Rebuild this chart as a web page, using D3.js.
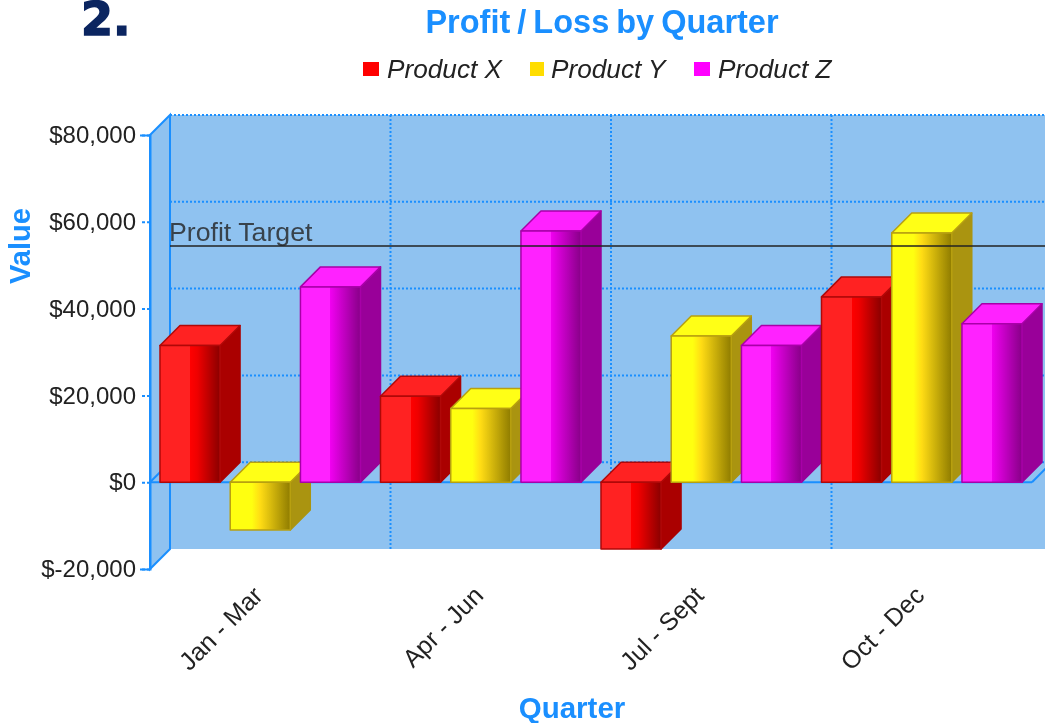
<!DOCTYPE html>
<html>
<head>
<meta charset="utf-8">
<script src="https://d3js.org/d3.v7.min.js"></script>
<style>
  html, body { margin: 0; padding: 0; background: #fff; overflow: hidden; }
  svg { display: block; font-family: "Liberation Sans", Arial, sans-serif; }
  #chart { filter: blur(0.6px); }
</style>
</head>
<body>
<div id="chart"></div>
<script>
// chart data
const quarters = ["Jan - Mar", "Apr - Jun", "Jul - Sept", "Oct - Dec"];
const products = ["Product X", "Product Y", "Product Z"];
const productX = [31500, 19800, -15400, 42700];
const productY = [-11000, 17000, 33700, 57400];
const productZ = [45000, 57900, 31500, 36500];
const yTicks = [-20000, 0, 20000, 40000, 60000, 80000];
const gridTicks = [0, 20000, 40000, 60000, 80000];
const profitTarget = 49800;

const width = 1045, height = 723;
const depth = 20;
const blue = "#1a8fff";
const wall = "#8fc2f0";

const palette = [
  { top: "#ff2222", side: "#aa0000", edge: "#b00808", key: "#ff0000",
    stops: [[0, "#ff2222"], [0.5, "#ff2222"], [0.5, "#ff0000"], [0.62, "#f00000"], [1, "#8a0000"]] },
  { top: "#ffff16", side: "#aa9410", edge: "#b8a010", key: "#ffdd00",
    stops: [[0, "#ffff10"], [0.36, "#ffff10"], [0.5, "#ffdc14"], [1, "#8f7c00"]] },
  { top: "#ff22ff", side: "#990099", edge: "#a800a8", key: "#ff00ff",
    stops: [[0, "#ff22ff"], [0.5, "#ff22ff"], [0.5, "#f000f0"], [1, "#880088"]] }
];

const svg = d3.select("#chart").append("svg")
  .attr("width", width)
  .attr("height", height);

const y = d3.scaleLinear().domain([-20000, 80000]).range([569, 135]);
const x0 = d3.scaleBand().domain(quarters).range([150, 1032]);
const x1 = d3.scaleBand().domain(products).range([10, 210.5]).paddingInner(0.145);

// gradients for the bar fronts
const defs = svg.append("defs");
palette.forEach((c, i) => {
  const g = defs.append("linearGradient").attr("id", "front" + i);
  c.stops.forEach(s => {
    g.append("stop").attr("offset", s[0]).attr("stop-color", s[1]);
  });
});

// walls
const back = svg.append("g");
back.append("rect")
  .attr("x", x0.range()[0] + depth)
  .attr("y", y(80000) - depth)
  .attr("width", width - x0.range()[0] - depth)
  .attr("height", y(-20000) - y(80000))
  .attr("fill", wall);
back.append("path")
  .attr("d", `M150,${y(80000)}L170,${y(80000) - depth}V${y(-20000) - depth}L150,${y(-20000)}Z`)
  .attr("fill", wall)
  .attr("stroke", blue)
  .attr("stroke-width", 2);

// dotted grid on the back wall
back.selectAll(".hgrid").data(gridTicks)
  .enter().append("line")
  .attr("x1", 170).attr("x2", width)
  .attr("y1", d => y(d) - depth).attr("y2", d => y(d) - depth)
  .attr("stroke", blue)
  .attr("stroke-width", 2)
  .attr("stroke-dasharray", "2,2");
back.selectAll(".vgrid").data(quarters.slice(1))
  .enter().append("line")
  .attr("x1", d => x0(d) + depth).attr("x2", d => x0(d) + depth)
  .attr("y1", y(80000) - depth).attr("y2", y(-20000) - depth)
  .attr("stroke", blue)
  .attr("stroke-width", 2)
  .attr("stroke-dasharray", "2,2");

// zero plane
back.append("path")
  .attr("d", `M150,${y(0)}L170,${y(0) - depth}M${x0.range()[1]},${y(0)}L${x0.range()[1] + depth},${y(0) - depth}`)
  .attr("stroke", blue).attr("stroke-width", 2).attr("fill", "none");
back.append("line")
  .attr("x1", 150).attr("x2", x0.range()[1])
  .attr("y1", y(0)).attr("y2", y(0))
  .attr("stroke", blue).attr("stroke-width", 2);

// y axis
const yAxis = d3.axisLeft(y)
  .tickValues(yTicks)
  .tickSize(10)
  .tickPadding(4)
  .tickFormat(d => (d < 0 ? "$-" : "$") + d3.format(",")(Math.abs(d)));
const yG = svg.append("g").attr("transform", "translate(150,0)").call(yAxis);
yG.select(".domain").attr("stroke", blue).attr("stroke-width", 2);
yG.selectAll(".tick line").attr("stroke", blue).attr("stroke-width", 2).attr("stroke-dasharray", "3,2");
yG.selectAll(".tick text").attr("fill", "#222").style("font-size", "24px").style("font-family", "Liberation Sans");

// bars, drawn left to right so that they overlap as in 3d
const series = [productX, productY, productZ];
quarters.forEach((q, qi) => {
  products.forEach((p, pi) => {
    const v = series[pi][qi];
    const c = palette[pi];
    const bx = x0(q) + x1(p), bw = x1.bandwidth();
    const top = y(Math.max(v, 0)), bot = y(Math.min(v, 0));
    const g = svg.append("g").attr("stroke", c.edge).attr("stroke-width", 1.5).attr("stroke-linejoin", "round");
    g.append("path")
      .attr("d", `M${bx + bw},${top}l${depth},${-depth}V${bot - depth}L${bx + bw},${bot}Z`)
      .attr("fill", c.side).attr("stroke", c.side);
    g.append("path")
      .attr("d", `M${bx},${top}l${depth},${-depth}h${bw}l${-depth},${depth}Z`)
      .attr("fill", c.top);
    g.append("rect")
      .attr("x", bx).attr("y", top)
      .attr("width", bw).attr("height", bot - top)
      .attr("fill", `url(#front${pi})`);
  });
});

// target marker
svg.append("line")
  .attr("x1", 170).attr("x2", width)
  .attr("y1", y(profitTarget) - depth).attr("y2", y(profitTarget) - depth)
  .attr("stroke", "#222").attr("stroke-opacity", 0.75).attr("stroke-width", 2);
svg.append("text")
  .attr("x", 169).attr("y", y(profitTarget) - depth - 5)
  .attr("fill", "#222").attr("fill-opacity", 0.8)
  .style("font-size", "26.7px")
  .text("Profit Target");

// x labels
svg.selectAll(".xlab").data(quarters)
  .enter().append("text")
  .attr("text-anchor", "end")
  .attr("fill", "#222")
  .style("font-size", "25px")
  .attr("transform", d => `translate(${x0(d) + x0.bandwidth() / 2 + 4},${597}) rotate(-45)`)
  .text(d => d);

// titles
svg.append("text").attr("x", 602).attr("y", 33)
  .attr("text-anchor", "middle").attr("fill", blue)
  .style("font-size", "32.5px").style("font-weight", "bold").style("word-spacing", "-2px")
  .text("Profit / Loss by Quarter");
svg.append("text").attr("x", 572).attr("y", 718)
  .attr("text-anchor", "middle").attr("fill", blue)
  .style("font-size", "29.5px").style("font-weight", "bold")
  .text("Quarter");
svg.append("text")
  .attr("transform", "translate(30,246) rotate(-90)")
  .attr("text-anchor", "middle").attr("fill", blue)
  .style("font-size", "29px").style("font-weight", "bold")
  .text("Value");

// legend
const legendX = [363, 530, 694];
const legendTextX = [387, 551, 718];
products.forEach((p, i) => {
  svg.append("rect")
    .attr("x", legendX[i]).attr("y", 62)
    .attr("width", i === 1 ? 14 : 16).attr("height", 14)
    .attr("fill", palette[i].key);
  svg.append("text")
    .attr("x", legendTextX[i]).attr("y", 78)
    .attr("fill", "#222")
    .style("font-size", "26.2px").style("font-style", "italic")
    .text(p);
});

// slide number
svg.append("text").attr("x", 81).attr("y", 35)
  .attr("fill", "#0b2560")
  .attr("stroke", "#0b2560")
  .attr("stroke-width", 1.5)
  .style("font-family", "DejaVu Sans")
  .style("font-weight", "bold")
  .style("font-size", "46px")
  .text("2.");
</script>
</body>
</html>
